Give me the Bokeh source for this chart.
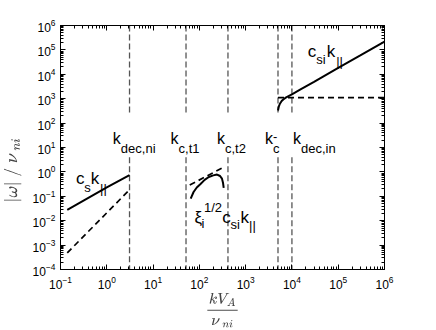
import numpy as np
from bokeh.plotting import figure
from bokeh.models import Label, FixedTicker, LogAxis, CustomJSTickFormatter
from bokeh.embed import file_html
from bokeh.resources import INLINE

# ---- data ----
k_marks = [3.1, 51.5, 415.0, 5000.0, 10000.0]      # vertical dashed markers
gap_top, gap_bottom = 220.0, 4.0                    # where marker lines break for labels

low_x = [0.14, 1.0, 3.1]
low_solid = [0.028, 0.23, 0.74]
low_dash = [4.8e-4, 0.021, 0.186]

mid_x = [65, 75, 88, 106, 130, 160, 200, 241, 280, 308, 325, 336]
mid_solid = [0.08, 0.15, 0.23, 0.32, 0.47, 0.62, 0.72, 0.78, 0.68, 0.53, 0.35, 0.22]
mid_dash_x = [62, 345]
mid_dash = [0.29, 1.6]

high_x = [5000, 5200, 5500, 6000, 6500, 7500, 1e4, 1.5e4, 3e4, 1e5, 3e5, 1e6]
high_solid = [330, 470, 620, 800, 930, 1130, 1520, 2350, 4930, 1.85e4, 5.9e4, 2.2e5]
high_dash_x = [5000, 1e6]
high_dash = [1100, 1100]

x_major = [10.0 ** k for k in range(-1, 7)]
y_major = [10.0 ** k for k in range(-4, 7)]
x_minor = [m * 10.0 ** k for k in range(-1, 6) for m in range(2, 10)]
y_minor = [m * 10.0 ** k for k in range(-4, 6) for m in range(2, 10)]

FONT = "Liberation Sans"

p = figure(width=436, height=330, x_axis_type="log", y_axis_type="log",
           x_range=(0.1, 1e6), y_range=(1e-4, 1e6),
           output_backend="svg", toolbar_location=None,
           min_border_left=57, min_border_right=52, min_border_top=25, min_border_bottom=51)
p.background_fill_color = "white"
p.border_fill_color = "white"
p.outline_line_color = "black"
p.outline_line_width = 1
p.xgrid.visible = False
p.ygrid.visible = False

bottom = p.xaxis[0]
left = p.yaxis[0]

def style_axis(ax, ticks, minor, labels=True):
    ax.ticker = FixedTicker(ticks=ticks, minor_ticks=minor)
    ax.major_tick_in = 5
    ax.major_tick_out = 0
    ax.minor_tick_in = 3
    ax.minor_tick_out = 0
    ax.axis_line_color = "black"
    ax.major_tick_line_color = "black"
    ax.minor_tick_line_color = "black"
    ax.major_label_text_font = FONT
    ax.major_label_text_font_size = "12px"
    ax.major_label_text_color = "black"
    if not labels:
        ax.formatter = CustomJSTickFormatter(code="return ''")
        ax.major_label_standoff = 0

style_axis(bottom, x_major, x_minor)
style_axis(left, y_major, y_minor)
bottom.major_label_standoff = 6
left.major_label_standoff = 5

top = LogAxis()
right = LogAxis()
p.add_layout(top, "above")
p.add_layout(right, "right")
style_axis(top, x_major, x_minor, labels=False)
style_axis(right, y_major, y_minor, labels=False)

bottom.axis_label = r"$$\frac{kV_A}{\nu_{\ ni}}$$"
left.axis_label = r"$$|\omega|\ /\ \nu_{\ ni}\phantom{\omega\omega\omega\omega}$$"
bottom.axis_label_text_font_size = "12px"
left.axis_label_text_font_size = "14px"
bottom.axis_label_standoff = 1
left.axis_label_standoff = 8

# vertical marker lines (broken where the labels sit)
n = len(k_marks)
p.segment(x0=k_marks * 2, x1=k_marks * 2,
          y0=[1e6] * n + [gap_bottom] * n, y1=[gap_top] * n + [1e-4] * n,
          line_color="#555555", line_width=1.3, line_dash="6 3")

# curves
p.line(low_x, low_solid, line_color="black", line_width=2)
p.line(low_x, low_dash, line_color="black", line_width=1.7, line_dash="6 4")
p.line(mid_dash_x, mid_dash, line_color="black", line_width=1.7, line_dash="6 4")
p.line(mid_x, mid_solid, line_color="black", line_width=2)
p.line(high_dash_x, high_dash, line_color="black", line_width=1.7, line_dash="6 4")
p.line(high_x, high_solid, line_color="black", line_width=2)

def compose(x, y, pieces):
    for text, dx, dy, size in pieces:
        p.add_layout(Label(x=x, y=y, x_offset=dx, y_offset=-dy, text=text,
                           text_font=FONT, text_font_size=f"{size}px",
                           text_baseline="alphabetic", text_align="left",
                           text_color="black"))

yk = 22.6
compose(k_marks[0], yk, [("k", -16.7, 0, 16), ("dec,ni", -8.7, 10, 13)])
compose(k_marks[1], yk, [("k", -15.4, 0, 16), ("c,t1", -7.4, 10, 13)])
compose(k_marks[2], yk, [("k", -11, 0, 16), ("c,t2", -3, 10, 13)])
compose(k_marks[3], yk, [("k", -13, 0, 16), ("-", -5, -2, 13), ("c", -5, 10, 13)])
compose(k_marks[4], yk, [("k", 1, 0, 16), ("dec,in", 9, 10, 13)])

compose(0.217, 0.525, [("c", 0, 0, 17), ("s", 8.3, 8.5, 13), ("k", 14.6, 0, 17), ("||", 24, 9.5, 13)])
compose(22100, 86500, [("c", 0, 0, 17), ("si", 8.3, 8, 13), ("k", 19, 0, 17), ("||", 28.3, 10, 13)])
compose(78.8, 0.0134, [("ξ", 0, 0, 17), ("i", 7, 6, 13), ("1/2", 9.4, -10, 13),
                       ("c", 27.7, 0, 17), ("si", 36, 7, 13), ("k", 46, 0, 17), ("||", 54.5, 8, 13)])

open("out.html", "w").write(file_html(p, INLINE))
